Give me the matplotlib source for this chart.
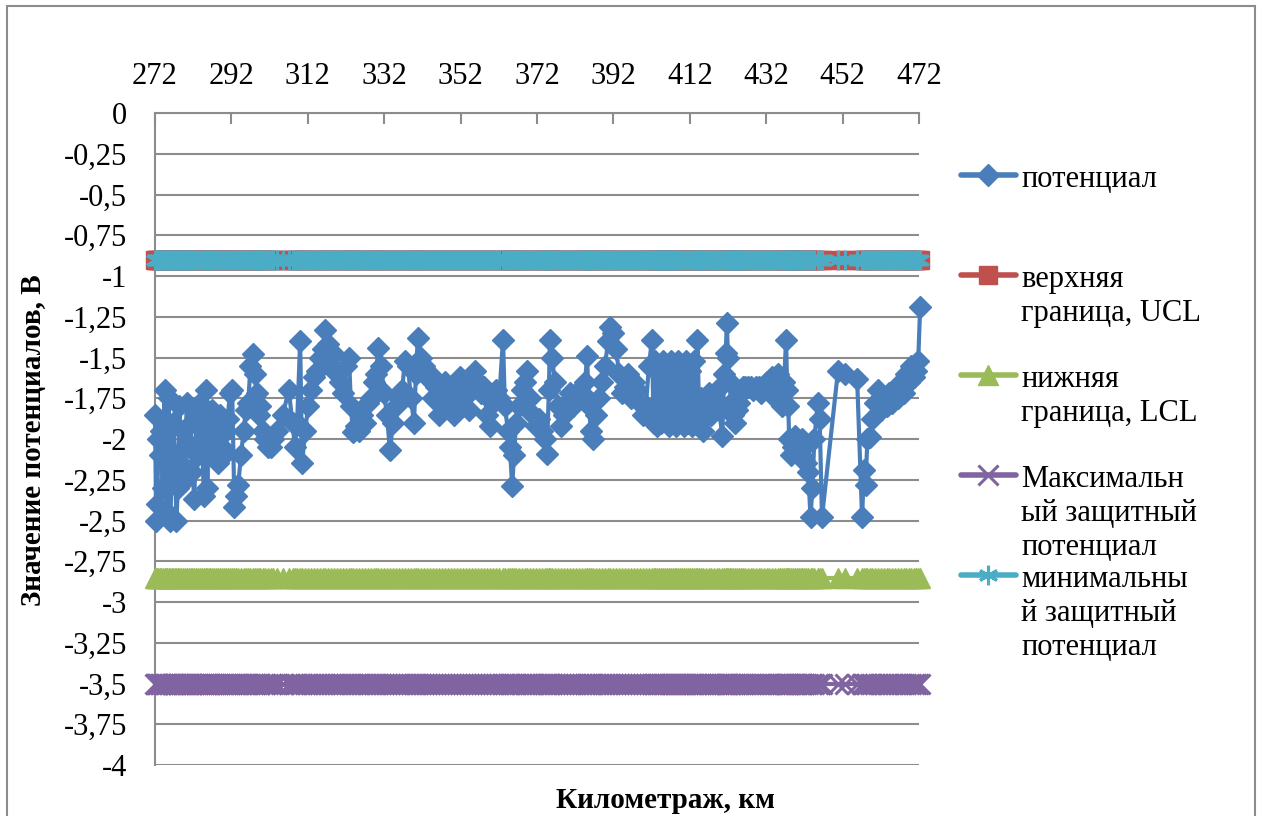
import numpy as np
import matplotlib
matplotlib.use("Agg")
import matplotlib.pyplot as plt
from matplotlib.lines import Line2D
from matplotlib.patches import Rectangle
from matplotlib.ticker import FuncFormatter, FixedLocator

plt.rcParams['font.family'] = ['Liberation Serif', 'DejaVu Serif']

# Measured pipe-to-soil potential along the route (km, V)
km = [
    272.0, 272.3, 272.6, 272.9, 273.2, 273.6, 274.0, 274.5, 274.8, 275.2,
    275.6, 276.0, 276.4, 276.8, 277.2, 277.6, 278.0, 278.4, 278.8, 279.3,
    279.8, 280.3, 280.8, 281.3, 281.8, 282.3, 282.8, 283.3, 283.8, 284.3,
    284.8, 285.3, 285.7, 286.1, 286.5, 287.0, 287.5, 288.0, 288.5, 289.0,
    289.5, 290.0, 290.5, 291.0, 291.6, 292.2, 292.8, 293.3, 293.8, 294.5,
    295.2, 295.8, 296.4, 297.0, 297.6, 298.1, 298.6, 299.1, 299.6, 300.2,
    300.8, 301.5, 302.3, 303.0, 304.0, 305.5, 307.0, 308.0, 308.6, 309.2,
    310.0, 310.5, 311.3, 312.1, 312.9, 313.6, 314.4, 315.2, 316.0, 316.5,
    317.3, 318.1, 318.9, 319.6, 320.4, 321.2, 322.0, 322.8, 323.3, 323.8,
    324.6, 325.4, 326.2, 327.0, 327.8, 328.6, 329.4, 329.9, 330.4, 331.2,
    332.0, 332.7, 333.5, 334.3, 335.1, 335.9, 336.7, 337.4, 338.2, 339.0,
    339.8, 340.3, 340.8, 341.6, 342.4, 343.2, 344.0, 344.8, 345.6, 346.3,
    347.1, 347.9, 348.7, 349.5, 350.3, 351.1, 351.8, 352.6, 353.4, 354.2,
    355.0, 355.8, 356.6, 357.4, 358.1, 358.9, 359.7, 360.5, 361.3, 362.1,
    363.1, 363.6, 364.4, 364.9, 365.5, 366.0, 366.5, 367.3, 368.1, 368.9,
    369.4, 370.2, 371.0, 371.7, 372.5, 373.3, 374.1, 374.6, 375.1, 375.4,
    375.9, 376.7, 377.5, 378.3, 379.1, 379.9, 380.6, 381.4, 382.2, 383.0,
    383.8, 384.6, 385.1, 385.6, 386.1, 386.7, 387.4, 388.2, 389.0, 389.8,
    390.6, 391.1, 391.9, 392.7, 393.5, 394.3, 395.0, 395.8, 396.6, 397.4,
    398.2, 399.0, 399.8, 400.5, 401.3, 402.1, 402.5, 403.0, 403.5, 404.0,
    404.5, 405.0, 405.5, 406.0, 406.5, 407.0, 407.5, 408.0, 408.5, 409.0,
    409.5, 410.0, 410.5, 411.0, 411.5, 412.0, 412.5, 413.0, 413.5, 414.0,
    414.5, 415.0, 415.5, 416.2, 416.9, 417.6, 418.3, 419.0, 419.7, 420.5,
    421.0, 421.4, 421.7, 422.0, 422.4, 422.8, 423.3, 423.8, 424.3, 424.8,
    425.3, 425.8, 426.5, 427.2, 427.9, 428.6, 429.3, 430.0, 430.7, 431.4,
    432.1, 432.8, 433.5, 434.2, 435.0, 435.6, 436.2, 436.7, 437.2, 437.5,
    437.8, 438.0, 438.5, 439.0, 439.5, 440.0, 440.5, 441.0, 441.5, 442.0,
    442.5, 443.0, 443.6, 444.1, 444.6, 445.5, 446.0, 446.6, 450.8, 452.5,
    455.8, 457.1, 457.6, 458.0, 458.5, 459.2, 459.8, 460.5, 461.2, 462.0,
    462.8, 463.5, 464.2, 465.0, 465.8, 466.5, 467.2, 468.0, 468.7, 469.4,
    470.0, 470.6, 471.2, 471.8, 472.3,
]
potential = [
    -1.85, -2.50, -2.40, -2.00, -2.10, -1.95, -2.30, -1.70, -2.05, -2.45,
    -1.75, -2.50, -2.20, -1.90, -2.10, -2.50, -2.30, -1.80, -2.15, -1.95,
    -2.25, -1.78, -2.05, -1.90, -2.20, -2.37, -1.85, -2.10, -1.78, -2.00,
    -2.35, -1.70, -2.30, -1.85, -2.00, -1.82, -2.10, -1.95, -2.15, -1.85,
    -2.05, -2.10, -1.95, -1.88, -1.72, -1.70, -2.42, -2.35, -2.28, -2.10,
    -1.95, -1.82, -1.78, -1.55, -1.48, -1.60, -1.72, -1.85, -1.80, -1.95,
    -2.00, -2.05, -2.05, -2.00, -1.95, -1.85, -1.70, -1.90, -2.05, -1.90,
    -1.40, -2.15, -1.95, -1.80, -1.70, -1.62, -1.58, -1.50, -1.45, -1.33,
    -1.42, -1.55, -1.48, -1.60, -1.65, -1.72, -1.55, -1.50, -1.80, -1.96,
    -1.92, -1.95, -1.85, -1.90, -1.78, -1.75, -1.65, -1.60, -1.44, -1.55,
    -1.72, -1.85, -2.07, -1.90, -1.80, -1.75, -1.70, -1.52, -1.55, -1.75,
    -1.90, -1.60, -1.38, -1.50, -1.55, -1.62, -1.60, -1.75, -1.68, -1.85,
    -1.70, -1.65, -1.80, -1.70, -1.85, -1.78, -1.62, -1.75, -1.68, -1.82,
    -1.70, -1.58, -1.65, -1.72, -1.68, -1.85, -1.92, -1.78, -1.70, -1.75,
    -1.39, -1.80, -1.95, -2.05, -2.29, -2.10, -1.90, -1.80, -1.70, -1.65,
    -1.58, -1.75, -1.85, -1.92, -1.88, -1.95, -2.00, -2.09, -1.70, -1.39,
    -1.50, -1.65, -1.80, -1.92, -1.85, -1.78, -1.72, -1.80, -1.75, -1.70,
    -1.72, -1.65, -1.49, -1.80, -1.95, -2.00, -1.85, -1.75, -1.65, -1.55,
    -1.40, -1.31, -1.35, -1.45, -1.60, -1.72, -1.68, -1.60, -1.75, -1.65,
    -1.70, -1.78, -1.85, -1.80, -1.55, -1.39, -1.90, -1.52, -1.92, -1.55,
    -1.90, -1.52, -1.88, -1.60, -1.92, -1.52, -1.90, -1.55, -1.92, -1.52,
    -1.85, -1.55, -1.92, -1.52, -1.90, -1.58, -1.92, -1.52, -1.88, -1.39,
    -1.90, -1.75, -1.95, -1.80, -1.72, -1.85, -1.78, -1.70, -1.82, -1.98,
    -1.60, -1.47, -1.29, -1.50, -1.65, -1.78, -1.85, -1.90, -1.82, -1.78,
    -1.72, -1.68, -1.68, -1.68, -1.68, -1.70, -1.68, -1.68, -1.72, -1.68,
    -1.65, -1.68, -1.62, -1.75, -1.60, -1.75, -1.80, -1.65, -1.39, -1.70,
    -1.80, -2.00, -2.10, -2.05, -1.98, -2.08, -2.02, -2.10, -2.00, -2.05,
    -2.15, -2.20, -2.48, -2.30, -2.00, -1.78, -1.88, -2.48, -1.58, -1.60,
    -1.63, -2.48, -2.19, -2.28, -2.00, -1.99, -1.88, -1.78, -1.70, -1.82,
    -1.75, -1.80, -1.72, -1.78, -1.70, -1.75, -1.65, -1.72, -1.60, -1.65,
    -1.55, -1.62, -1.58, -1.52, -1.19,
]

# Control limits and protective potential bounds, V
ucl = -0.9
lcl = -2.85
max_protective = -3.5
min_protective = -0.9

x_ticks = [272, 292, 312, 332, 352, 372, 392, 412, 432, 452, 472]
y_ticks = [0, -0.25, -0.5, -0.75, -1, -1.25, -1.5, -1.75, -2, -2.25, -2.5,
           -2.75, -3, -3.25, -3.5, -3.75, -4]

labels = ["потенциал", "верхняя\nграница, UCL", "нижняя\nграница, LCL",
          "Максимальн\nый защитный\nпотенциал",
          "минимальны\nй защитный\nпотенциал"]

BLUE = "#4A7EBB"
RED = "#C0504D"
GREEN = "#9BBB59"
PURPLE = "#8064A2"
CYAN = "#4BACC6"
GRID = "#8C8C8C"

W, H = 1262, 816
fig = plt.figure(figsize=(W / 100, H / 100), dpi=100)
ax = fig.add_axes([155 / W, 1 - 765 / H, (919 - 155) / W, (765 - 113) / H])

km_arr = np.array(km)
n = len(km_arr)

styles = [
    dict(color=BLUE, marker="D", ms=11, mec=BLUE, mfc=BLUE),
    dict(color=RED, marker="s", ms=13, mec=RED, mfc=RED),
    dict(color=GREEN, marker="^", ms=14, mec=GREEN, mfc=GREEN),
    dict(color=PURPLE, marker="x", ms=14, mew=2.2, mec=PURPLE),
    dict(color=CYAN, marker=(6, 2, 0), ms=14, mew=2.2, mec=CYAN),
]

series = [potential, np.full(n, ucl), np.full(n, lcl),
          np.full(n, max_protective), np.full(n, min_protective)]
for z, (vals, st) in enumerate(zip(series, styles)):
    ax.plot(km_arr, vals, lw=3, zorder=3 + z, clip_on=False, **st)

ax.set_xlim(272, 472)
ax.set_ylim(-4, 0)
ax.xaxis.set_major_locator(FixedLocator(x_ticks))
ax.yaxis.set_major_locator(FixedLocator(y_ticks))
ax.xaxis.tick_top()
ax.yaxis.set_major_formatter(
    FuncFormatter(lambda v, p: ("%g" % v).replace(".", ",") if v != 0 else "0"))
ax.tick_params(axis="x", direction="in", length=8, width=1.5, color=GRID,
               labelsize=22, pad=16)
ax.tick_params(axis="y", length=0, labelsize=22, pad=20)
ax.grid(axis="y", color=GRID, lw=1.5, zorder=0)
ax.set_axisbelow(True)
for side in ("right", "bottom"):
    ax.spines[side].set_visible(False)
for side in ("left", "top"):
    ax.spines[side].set_color(GRID)
    ax.spines[side].set_linewidth(1.5)

# Axis titles
fig.text(665 / W, 1 - 808 / H, "Километраж, км", ha="center", va="baseline",
         fontsize=21, fontweight="bold")
fig.text(34 / W, 1 - 440 / H, "Значение потенциалов, В", rotation=90,
         ha="center", va="center", fontsize=21, fontweight="bold")

# Legend
for i, (lab, st) in enumerate(zip(labels, styles)):
    yc = 175 + 100 * i
    yf = 1 - yc / H
    fig.add_artist(Line2D([961 / W, 988 / W, 1016 / W], [yf, yf, yf],
                          transform=fig.transFigure, lw=4,
                          solid_capstyle="round", markevery=[1], **st))
    for j, line in enumerate(lab.split("\n")):
        fig.text(1021 / W, 1 - (yc + 12 + 34 * j) / H, line, ha="left",
                 va="baseline", fontsize=22)

# Chart frame
fig.add_artist(Rectangle((7 / W, -0.02), (1255 - 7) / W, 1.02 - 6 / H,
                         transform=fig.transFigure, fill=False,
                         edgecolor=GRID, lw=1.5))

fig.savefig("out.png", dpi=100)
